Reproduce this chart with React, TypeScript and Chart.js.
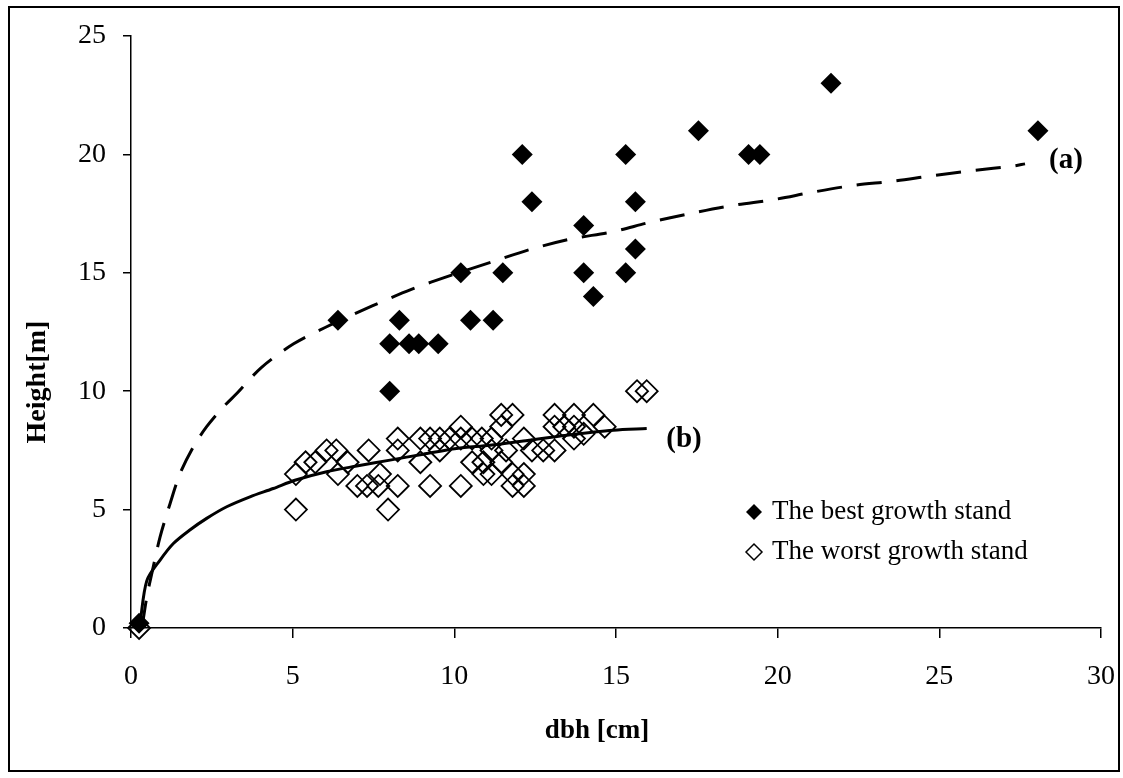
import React, { useEffect, useRef } from "react";
import { Chart, registerables } from "chart.js";

Chart.register(...registerables);

const FONT = "'Liberation Serif', 'Times New Roman', Times, serif";

// Series names
const SERIES_BEST = "The best growth stand";
const SERIES_WORST = "The worst growth stand";
const X_TITLE = "dbh [cm]";
const Y_TITLE = "Height[m]";
const LABEL_A = "(a)";
const LABEL_B = "(b)";

// Axis ticks
const X_TICKS = [0, 5, 10, 15, 20, 25, 30];
const Y_TICKS = [0, 5, 10, 15, 20, 25];

// The best growth stand (filled diamonds)
const bestX = [0.25, 6.4, 8.0, 8.0, 8.3, 8.6, 8.9, 9.5, 10.2, 10.5, 11.2, 11.5, 12.1, 12.4, 14.0, 14.0, 14.3, 15.3, 15.3, 15.6, 15.6, 17.55, 19.1, 19.45, 21.65, 28.05];
const bestY = [0.2, 13, 12, 10, 13, 12, 12, 12, 15, 13, 13, 15, 20, 18, 17, 15, 14, 20, 15, 18, 16, 21, 20, 20, 23, 21];

// The worst growth stand (open diamonds)
const worstX = [0.25, 5.1, 5.1, 5.4, 5.7, 6.05, 6.35, 6.4, 6.7, 7.0, 7.3, 7.35, 7.65, 7.7, 7.95, 8.25, 8.25, 8.25, 8.95, 8.95, 9.25, 9.25, 9.55, 9.55, 9.85, 10.2, 10.2, 10.2, 10.55, 10.55, 10.85, 10.9, 10.9, 11.15, 11.15, 11.15, 11.45, 11.8, 11.45, 11.45, 11.6, 11.8, 11.8, 12.15, 12.15, 12.15, 12.4, 12.75, 13.1, 13.1, 13.1, 13.4, 13.7, 13.7, 13.7, 14.0, 14.3, 14.65, 15.65, 15.95];
const worstY = [0, 6.5, 5, 7, 7, 7.5, 7.5, 6.5, 7, 6, 6, 7.5, 6, 6.5, 5, 6, 8, 7.5, 7, 8, 6, 8, 7.5, 8, 8, 8.5, 6, 8, 8, 7, 8, 7, 6.5, 6.5, 8, 7.5, 9, 9, 7, 8.5, 7.5, 6, 6.5, 6, 8, 6.5, 7.5, 7.5, 9, 8.5, 7.5, 8.5, 9, 8.5, 8, 8.2, 9, 8.5, 10, 10];

// Fitted curve (a) – dashed
const curveAX = [0.35, 0.49, 0.69, 0.9, 1.21, 1.52, 1.93, 2.34, 2.86, 3.27, 4.03, 5.03, 6.02, 7.46, 8.67, 9.89, 11.16, 12.43, 13.64, 14.86, 16.07, 17.29, 18.63, 19.87, 21.1, 22.34, 23.58, 24.82, 26.05, 27.29, 27.65];
const curveAY = [0.1, 1.32, 2.59, 3.85, 5.26, 6.53, 7.65, 8.5, 9.34, 9.9, 11.0, 12.0, 12.7, 13.6, 14.3, 14.89, 15.46, 16.02, 16.44, 16.72, 17.14, 17.5, 17.85, 18.09, 18.41, 18.69, 18.87, 19.11, 19.32, 19.51, 19.6];

// Fitted curve (b) – solid
const curveBX = [0.28, 0.49, 0.9, 1.31, 1.82, 2.34, 2.96, 3.68, 4.4, 5.07, 6.05, 6.98, 8.01, 9.04, 10.07, 11.1, 12.13, 13.48, 14.92, 15.95];
const curveBY = [0.2, 2.0, 2.87, 3.57, 4.14, 4.63, 5.12, 5.54, 5.89, 6.24, 6.6, 6.84, 7.09, 7.34, 7.58, 7.72, 7.9, 8.14, 8.35, 8.42];

const toPoints = (xs: number[], ys: number[]) => xs.map((x, i) => ({ x, y: ys[i] }));

const overlay = {
  id: "overlay",
  afterDraw(chart: any) {
    const ctx = chart.ctx as CanvasRenderingContext2D;
    ctx.save();
    // outer frame
    ctx.strokeStyle = "#000";
    ctx.lineWidth = 2;
    ctx.strokeRect(9, 7, 1110, 764);

    ctx.fillStyle = "#000";
    ctx.textBaseline = "alphabetic";
    ctx.textAlign = "center";
    ctx.font = `bold 27px ${FONT}`;
    ctx.fillText(X_TITLE, 597, 738);
    ctx.save();
    ctx.translate(45, 382);
    ctx.rotate(-Math.PI / 2);
    ctx.font = `bold 28px ${FONT}`;
    ctx.fillText(Y_TITLE, 0, 0);
    ctx.restore();

    ctx.font = `bold 29px ${FONT}`;
    ctx.fillText(LABEL_A, 1066, 168);
    ctx.fillText(LABEL_B, 684, 447);

    // legend
    const lx = 754;
    const rows = [512, 552];
    ctx.beginPath();
    ctx.moveTo(lx - 8, rows[0]);
    ctx.lineTo(lx, rows[0] - 8);
    ctx.lineTo(lx + 8, rows[0]);
    ctx.lineTo(lx, rows[0] + 8);
    ctx.closePath();
    ctx.fill();
    ctx.beginPath();
    ctx.moveTo(lx - 8, rows[1]);
    ctx.lineTo(lx, rows[1] - 8);
    ctx.lineTo(lx + 8, rows[1]);
    ctx.lineTo(lx, rows[1] + 8);
    ctx.closePath();
    ctx.lineWidth = 1.5;
    ctx.stroke();
    ctx.textAlign = "left";
    ctx.font = `27px ${FONT}`;
    ctx.fillText(SERIES_BEST, 772, 519);
    ctx.fillText(SERIES_WORST, 772, 559);
    ctx.restore();
  },
};

export default function App() {
  const ref = useRef<HTMLCanvasElement | null>(null);
  useEffect(() => {
    if (!ref.current) return;
    Chart.defaults.font.family = FONT;
    Chart.defaults.color = "#000";
    const chart = new Chart(ref.current, {
      type: "scatter",
      data: {
        datasets: [
          {
            label: "curve a",
            data: toPoints(curveAX, curveAY),
            showLine: true,
            borderColor: "#000",
            borderWidth: 3,
            borderDash: [25, 15],
            pointRadius: 0,
            tension: 0.3,
            clip: false,
          } as any,
          {
            label: "curve b",
            data: toPoints(curveBX, curveBY),
            showLine: true,
            borderColor: "#000",
            borderWidth: 3,
            pointRadius: 0,
            tension: 0.3,
            clip: false,
          } as any,
          {
            label: SERIES_BEST,
            data: toPoints(bestX, bestY),
            pointStyle: "rectRot",
            pointRadius: 10.5,
            backgroundColor: "#000",
            borderColor: "#000",
            borderWidth: 0,
            clip: false,
          } as any,
          {
            label: SERIES_WORST,
            data: toPoints(worstX, worstY),
            pointStyle: "rectRot",
            pointRadius: 11,
            backgroundColor: "rgba(0,0,0,0)",
            borderColor: "#000",
            borderWidth: 1.8,
            clip: false,
          } as any,
        ],
      },
      options: {
        animation: false,
        responsive: false,
        devicePixelRatio: 1,
        layout: { padding: { left: 0, right: 22, top: 36, bottom: 0 } },
        plugins: {
          legend: { display: false },
          tooltip: { enabled: false },
        },
        scales: {
          x: {
            type: "linear",
            min: 0,
            max: 30,
            afterFit: (s: any) => {
              s.height = 150;
              s.paddingLeft = 0;
              s.paddingRight = 0;
            },
            afterBuildTicks: (s: any) => {
              s.ticks = X_TICKS.map((v) => ({ value: v }));
            },
            ticks: { font: { size: 28, family: FONT }, color: "#000", padding: 22, maxRotation: 0 },
            grid: { drawOnChartArea: false, drawTicks: true, tickLength: 10, color: "#000", lineWidth: 1.5 },
            border: { display: true, color: "#000", width: 1.5 },
          },
          y: {
            type: "linear",
            min: 0,
            max: 25,
            afterFit: (s: any) => {
              s.width = 131;
              s.paddingTop = 0;
              s.paddingBottom = 0;
            },
            afterBuildTicks: (s: any) => {
              s.ticks = Y_TICKS.map((v) => ({ value: v }));
            },
            ticks: { font: { size: 28, family: FONT }, color: "#000", padding: 17 },
            grid: { drawOnChartArea: false, drawTicks: true, tickLength: 8, color: "#000", lineWidth: 1.5 },
            border: { display: true, color: "#000", width: 1.5 },
          },
        },
      } as any,
      plugins: [overlay],
    });
    return () => chart.destroy();
  }, []);
  return (
    <div style={{ position: "fixed", left: 0, top: 0, width: 1123, height: 778, background: "#fff" }}>
      <canvas ref={ref} width={1123} height={778} style={{ width: 1123, height: 778, display: "block" }} />
    </div>
  );
}
